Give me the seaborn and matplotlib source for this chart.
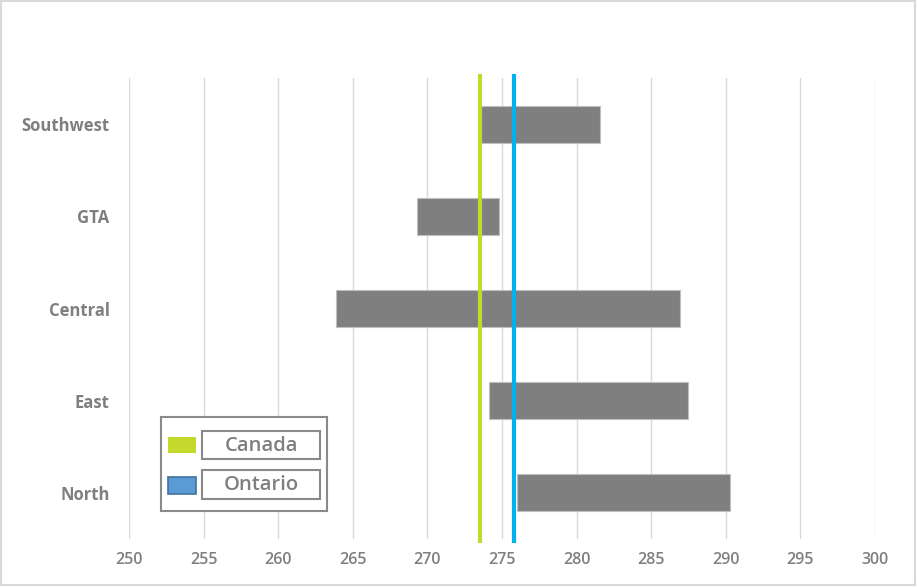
import numpy as np
import pandas as pd
import matplotlib
matplotlib.use("Agg")
import matplotlib.pyplot as plt
from matplotlib.patches import Rectangle
import seaborn as sns

# Regional score ranges (low / high) with national and provincial averages
regions = ["Southwest", "GTA", "Central", "East", "North"]
range_low = [273.6, 269.3, 263.9, 274.1, 276.0]
range_high = [281.6, 274.8, 286.9, 287.5, 290.3]
canada_avg = 273.5
ontario_avg = 275.8
x_ticks = [250, 255, 260, 265, 270, 275, 280, 285, 290, 295, 300]

GRAY_TEXT = "#7f7f7f"
BAR_COLOR = "#7f7f7f"
CANADA_COLOR = "#c5d92d"
ONTARIO_COLOR = "#00b0f0"

sns.set_theme(style="white")
plt.rcParams["font.family"] = ["Open Sans", "DejaVu Sans"]

W, H = 917, 587
fig = plt.figure(figsize=(W / 100, H / 100), dpi=100)
ax = fig.add_axes([129 / W, 1 - 539 / H, (875 - 129) / W, (539 - 78) / H])

df = pd.DataFrame({"region": regions, "low": range_low, "high": range_high})

sns.barplot(data=df, x="high", y="region", orient="h", color=BAR_COLOR,
            saturation=1, width=0.4, ax=ax, zorder=2,
            edgecolor="#bfbfbf", linewidth=0.8)

# turn each bar into a floating bar spanning low..high
for patch, lo, hi in zip(ax.patches, df["low"], df["high"]):
    patch.set_x(lo)
    patch.set_width(hi - lo)

ax.axvline(canada_avg, ymin=-0.008, ymax=1.008, color=CANADA_COLOR, lw=3.0,
           zorder=4, clip_on=False, solid_capstyle="butt")
ax.axvline(ontario_avg, ymin=-0.008, ymax=1.008, color=ONTARIO_COLOR, lw=3.0,
           zorder=4, clip_on=False, solid_capstyle="butt")

ax.set_xlim(250, 300)
ax.set_xticks(x_ticks)
ax.set_xticklabels([str(t) for t in x_ticks], color=GRAY_TEXT, fontsize=11.5,
                   fontweight="semibold")
ax.set_ylim(4.5, -0.5)
ax.set_yticks(range(len(regions)))
ax.set_yticklabels(regions, color=GRAY_TEXT, fontsize=12, fontweight="bold")
ax.tick_params(axis="x", length=0, pad=9.5)
ax.tick_params(axis="y", length=0, pad=14)
ax.set_xlabel("")
ax.set_ylabel("")

ax.grid(axis="x", color="#d9d9d9", lw=1.0, zorder=0)
ax.grid(axis="y", visible=False)
ax.set_axisbelow(True)
for s in ax.spines.values():
    s.set_visible(False)


def px_rect(x0, y0, x1, y1, **kw):
    """Rectangle given in figure pixel coordinates (origin top-left)."""
    r = Rectangle((x0 / W, 1 - y1 / H), (x1 - x0) / W, (y1 - y0) / H,
                  transform=fig.transFigure, **kw)
    fig.patches.append(r)
    return r


# chart border
px_rect(1, 1, 915, 585, fill=False, edgecolor="#d9d9d9", lw=1.5, zorder=0)

# legend
px_rect(161, 417, 327, 511, facecolor="white", edgecolor="#8a8a8a", lw=1.5, zorder=5)
legend_items = [("Canada", CANADA_COLOR, None, 431, 459, 437, 453),
                ("Ontario", "#5b9bd5", "#41719c", 470, 499, 477, 494)]
for label, fc, ec, ty0, ty1, py0, py1 in legend_items:
    px_rect(168, py0, 196, py1, facecolor=fc,
            edgecolor=ec if ec else fc, lw=1.2 if ec else 0, zorder=6)
    px_rect(202, ty0, 320, ty1, facecolor="white", edgecolor="#8a8a8a",
            lw=1.5, zorder=6)
    fig.text(261 / W, 1 - ((ty0 + ty1) / 2 + 1) / H, label, ha="center",
             va="center", color=GRAY_TEXT, fontsize=14.5, fontweight="semibold",
             zorder=7)

fig.savefig("out.png", dpi=100, facecolor="white")
